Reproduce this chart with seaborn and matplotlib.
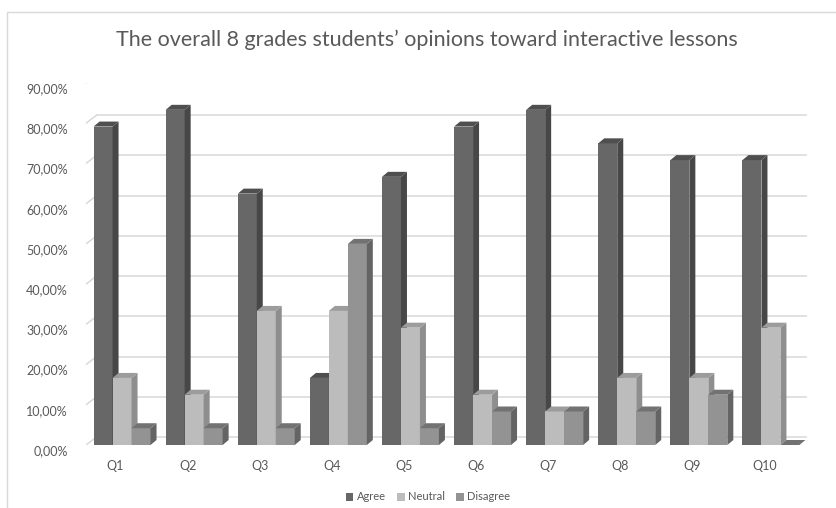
import numpy as np
import pandas as pd
import matplotlib
matplotlib.use("Agg")
import matplotlib.pyplot as plt
import matplotlib.transforms as mtrans
from matplotlib.patches import Polygon, Rectangle
from matplotlib.lines import Line2D
import seaborn as sns

questions = ["Q1", "Q2", "Q3", "Q4", "Q5", "Q6", "Q7", "Q8", "Q9", "Q10"]
agree = [79.17, 83.33, 62.50, 16.67, 66.67, 79.17, 83.33, 75.00, 70.83, 70.83]
neutral = [16.67, 12.50, 33.33, 33.33, 29.17, 12.50, 8.33, 16.67, 16.67, 29.17]
disagree = [4.17, 4.17, 4.17, 50.00, 4.17, 8.33, 8.33, 8.33, 12.50, 0.00]
series = ["Agree", "Neutral", "Disagree"]
y_ticks = [0, 10, 20, 30, 40, 50, 60, 70, 80, 90]
y_tick_labels = ["0,00%", "10,00%", "20,00%", "30,00%", "40,00%", "50,00%",
                 "60,00%", "70,00%", "80,00%", "90,00%"]
title = "The overall 8 grades students\u2019 opinions toward interactive lessons"

front_cols = {"Agree": "#676767", "Neutral": "#bcbcbc", "Disagree": "#939393"}
side_cols = {"Agree": "#474747", "Neutral": "#8e8e8e", "Disagree": "#646464"}
top_cols = {"Agree": "#4f4f4f", "Neutral": "#9c9c9c", "Disagree": "#727272"}

df = pd.DataFrame({
    "Question": questions * 3,
    "Series": sum([[s] * len(questions) for s in series], []),
    "Value": agree + neutral + disagree,
})

W, H = 837, 508
DPI = 100
sns.set_theme(style="white")
plt.rcParams["font.family"] = ["Lato", "DejaVu Sans"]

fig = plt.figure(figsize=(W / DPI, H / DPI), dpi=DPI)
ax = fig.add_axes([86 / W, (H - 445) / H, 721 / W, 362 / H])

sns.barplot(data=df, x="Question", y="Value", hue="Series", order=questions,
            hue_order=series, palette=front_cols, width=0.79, dodge=True,
            ax=ax, legend=False, saturation=1, edgecolor="none", linewidth=0)
ax.set_xlim(-0.5, len(questions) - 0.5)
ax.set_ylim(0, 90)
for s in ax.spines.values():
    s.set_visible(False)
ax.set_xlabel("")
ax.set_ylabel("")

# back-wall gridlines
back_dx, back_dy = 10.5, 8
front_dx, front_dy = -6.5, -5
back_tr = mtrans.offset_copy(ax.transData, fig=fig, x=back_dx, y=back_dy, units="dots")
ax.hlines(y_ticks, -0.5, len(questions) - 0.5, colors="#d9d9d9", lw=1.1,
          transform=back_tr, zorder=0)

# diagonal tick lines on the left side
for v in y_ticks:
    px, py = ax.transData.transform((-0.5, v))
    line = Line2D([px + front_dx, px + back_dx], [py + front_dy, py + back_dy],
                  color="#d9d9d9", lw=1.1, transform=mtrans.IdentityTransform(),
                  zorder=0)
    ax.add_line(line)

# pseudo-3D bar sides and tops
dx, dy = 6, 5
patches = sorted(ax.patches, key=lambda p: p.get_x())
for z, p in enumerate(patches):
    fc = tuple(round(c, 3) for c in p.get_facecolor()[:3])
    name = series[0]
    for s in series:
        ref = tuple(round(c, 3) for c in matplotlib.colors.to_rgb(front_cols[s]))
        if ref == fc:
            name = s
    x0, x1 = p.get_x(), p.get_x() + p.get_width()
    h = p.get_height()
    (X0, Y0) = ax.transData.transform((x0, 0))
    (X1, Y1) = ax.transData.transform((x1, h))
    base = 3 * z + 2
    p.set_zorder(base)
    side = Polygon([(X1, Y0), (X1, Y1), (X1 + dx, Y1 + dy), (X1 + dx, Y0 + dy)],
                   closed=True, facecolor=side_cols[name], edgecolor="none",
                   transform=mtrans.IdentityTransform(), zorder=base + 1)
    top = Polygon([(X0, Y1), (X1, Y1), (X1 + dx, Y1 + dy), (X0 + dx, Y1 + dy)],
                  closed=True, facecolor=top_cols[name], edgecolor="none",
                  transform=mtrans.IdentityTransform(), zorder=base + 2)
    ax.add_patch(side)
    ax.add_patch(top)

# ticks
ax.set_yticks(y_ticks)
ax.set_yticklabels(y_tick_labels)
ax.tick_params(axis="y", length=0, pad=13, labelsize=9, labelcolor="#595959")
ax.tick_params(axis="x", length=0, pad=11, labelsize=9, labelcolor="#595959")
for lab in ax.get_yticklabels():
    lab.set_transform(lab.get_transform() +
                      mtrans.ScaledTranslation(0, front_dy / DPI, fig.dpi_scale_trans))
for lab in ax.get_xticklabels():
    lab.set_transform(lab.get_transform() +
                      mtrans.ScaledTranslation(front_dx / DPI, 0, fig.dpi_scale_trans))

# title
fig.text(427 / W, 1 - 40 / H, title, ha="center", va="center",
         fontsize=15.5, color="#595959")

# legend
handles = [Rectangle((0, 0), 1, 1, facecolor=front_cols[s], edgecolor="none")
           for s in series]
fig.legend(handles, series, loc="center", bbox_to_anchor=(428 / W, 1 - 497 / H),
           ncol=3, frameon=False, fontsize=8, labelcolor="#595959",
           handlelength=0.7, handleheight=0.7, handletextpad=0.3,
           columnspacing=1.0)

# chart border
fig.add_artist(Line2D([7 / W, 7 / W], [0, 1 - 12 / H], color="#d9d9d9", lw=1,
                      transform=fig.transFigure))
fig.add_artist(Line2D([7 / W, 1], [1 - 12 / H, 1 - 12 / H], color="#d9d9d9", lw=1,
                      transform=fig.transFigure))

fig.savefig("out.png", dpi=DPI)
